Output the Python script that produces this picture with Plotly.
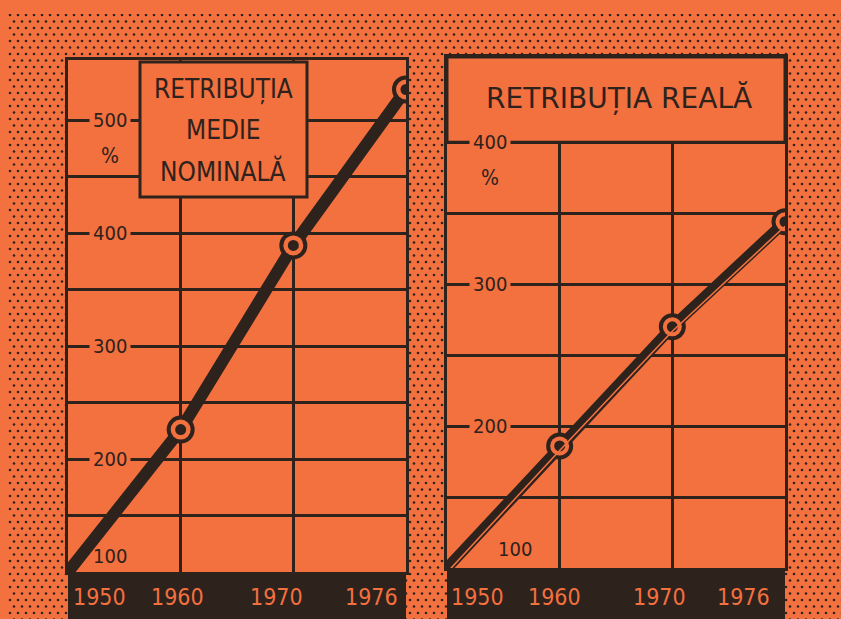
import base64
import plotly.graph_objects as go

# ---------------- data ----------------
years = ["1950", "1960", "1970", "1976"]
nominal = [100, 226, 389, 527]     # Retribuția medie nominală (%)
real = [100, 186, 270, 344]        # Retribuția reală (%)

left_ticks = [100, 200, 300, 400, 500]
right_ticks = [100, 200, 300, 400]
left_grid = [150, 200, 250, 300, 350, 400, 450, 500]
right_grid = [150, 200, 250, 300, 350, 400]

title_left = ["RETRIBUȚIA", "MEDIE", "NOMINALĂ"]
title_right = "RETRIBUȚIA REALĂ"

# ---------------- style ----------------
W, H = 841, 619
ORANGE = "#F3703F"
DARK = "#2E221D"
FONT = "Liberation Sans Narrow, DejaVu Sans Condensed, Roboto Condensed, Arial Narrow, sans-serif"
WIDE = "DejaVu Sans, Verdana, sans-serif"

# panel pixel boxes
L = dict(x0=68, x1=406, top=60, bot=572)
R = dict(x0=447, x1=785, top=57, bot=568)


def px(x):
    return x / W


def py(y):
    return 1 - y / H


# dotted background texture (outside the panels only)
svg = f"""<svg xmlns='http://www.w3.org/2000/svg' width='{W}' height='{H}'>
<defs><pattern id='p' width='8' height='13' patternUnits='userSpaceOnUse'>
<circle cx='2' cy='2' r='1.3' fill='{DARK}'/><circle cx='6' cy='8.5' r='1.3' fill='{DARK}'/>
</pattern></defs>
<rect width='{W}' height='{H}' fill='{ORANGE}'/>
<rect x='8' y='14' width='{W-8}' height='{H-14}' fill='url(#p)'/>
<rect x='{L["x0"]}' y='{L["top"]}' width='{L["x1"]-L["x0"]}' height='{H-L["top"]}' fill='{ORANGE}'/>
<rect x='{R["x0"]}' y='{R["top"]}' width='{R["x1"]-R["x0"]}' height='{H-R["top"]}' fill='{ORANGE}'/>
</svg>"""
uri = "data:image/svg+xml;base64," + base64.b64encode(svg.encode()).decode()

fig = go.Figure()

# ---- left panel: nominal ----
fig.add_trace(go.Scatter(x=years, y=nominal, mode="lines", line=dict(color=DARK, width=12),
                         xaxis="x", yaxis="y", showlegend=False, hoverinfo="skip"))
for size, col in [(28, DARK), (20, ORANGE), (11, DARK)]:
    fig.add_trace(go.Scatter(x=years[1:], y=nominal[1:], mode="markers",
                             marker=dict(size=size, color=col, line=dict(width=0)),
                             xaxis="x", yaxis="y", showlegend=False, hoverinfo="skip"))

# ---- right panel: real ----
fig.add_trace(go.Scatter(x=years, y=real, mode="lines", line=dict(color=DARK, width=11),
                         xaxis="x2", yaxis="y2", showlegend=False, hoverinfo="skip"))
fig.add_trace(go.Scatter(x=years, y=real, mode="lines", line=dict(color=ORANGE, width=1.6),
                         xaxis="x2", yaxis="y3", showlegend=False, hoverinfo="skip"))
for size, col in [(27, DARK), (19, ORANGE), (11, DARK)]:
    fig.add_trace(go.Scatter(x=years[1:], y=real[1:], mode="markers",
                             marker=dict(size=size, color=col, line=dict(width=0)),
                             xaxis="x2", yaxis="y2", showlegend=False, hoverinfo="skip"))

axis_common = dict(showline=True, mirror=True, linewidth=3, linecolor=DARK,
                   showgrid=True, gridcolor=DARK, gridwidth=2.5, zeroline=False,
                   showticklabels=False, ticks="", fixedrange=True)

ly_range = [100, 100 + (L["bot"] - L["top"]) / 1.13]
ry_ppu = 1.419
ry_range = [100, 100 + (R["bot"] - R["top"]) / ry_ppu]
shift = 4.5 / ry_ppu

fig.update_layout(
    width=W, height=H,
    margin=dict(l=0, r=0, t=0, b=0),
    paper_bgcolor=ORANGE, plot_bgcolor=ORANGE,
    images=[dict(source=uri, xref="paper", yref="paper", x=0, y=1, sizex=1, sizey=1,
                 sizing="stretch", layer="below", xanchor="left", yanchor="top")],
    xaxis=dict(axis_common, type="category", range=[0, 3], categoryorder="array",
               categoryarray=years, domain=[px(L["x0"]), px(L["x1"])], anchor="y"),
    yaxis=dict(axis_common, range=ly_range, tickvals=left_grid,
               domain=[py(L["bot"]), py(L["top"])], anchor="x"),
    xaxis2=dict(axis_common, type="category", range=[0, 3], categoryorder="array",
                categoryarray=years, domain=[px(R["x0"]), px(R["x1"])], anchor="y2"),
    yaxis2=dict(axis_common, range=ry_range, tickvals=right_grid,
                domain=[py(R["bot"]), py(R["top"])], anchor="x2"),
    yaxis3=dict(range=[ry_range[0] + shift, ry_range[1] + shift], overlaying="y2",
                visible=False, fixedrange=True),
)

shapes = []
# dark bands at bottom with the year labels
for P in (L, R):
    shapes.append(dict(type="rect", xref="paper", yref="paper", x0=px(P["x0"]), x1=px(P["x1"]),
                       y0=-0.02, y1=py(P["bot"]), fillcolor=DARK, line=dict(width=0),
                       layer="above"))
# title box, left panel
shapes.append(dict(type="rect", xref="paper", yref="paper", x0=px(140), x1=px(307),
                   y0=py(197), y1=py(62), fillcolor=ORANGE,
                   line=dict(color=DARK, width=3), layer="above"))
# framed clear zone for the right title (no grid above the 400 line)
shapes.append(dict(type="rect", xref="x2 domain", yref="y2", x0=0, x1=1,
                   y0=right_grid[-1], y1=ry_range[1], fillcolor=ORANGE,
                   line=dict(color=DARK, width=3), layer="above"))
fig.update_layout(shapes=shapes)

ann = []
# left title
for i, t in enumerate(title_left):
    ann.append(dict(text=t, xref="paper", yref="paper", x=px(223), y=py(89 + 41 * i),
                    xanchor="center", yanchor="middle",
                    showarrow=False, font=dict(family=FONT, size=26, color=DARK)))
# right title
ann.append(dict(text=title_right, xref="paper", yref="paper", x=px(619), y=py(98),
                xanchor="center", yanchor="middle",
                showarrow=False, font=dict(family=WIDE, size=28, color=DARK)))

# y tick labels (inside, with orange background to interrupt the grid)
for v in left_ticks:
    if v == 100:
        ann.append(dict(text="100", xref="x", yref="y", x=0.37, y=v, yshift=16,
                        showarrow=False, font=dict(family=FONT, size=20, color=DARK)))
    else:
        ann.append(dict(text=str(v), xref="x", yref="y", x=0.37, y=v, showarrow=False,
                        bgcolor=ORANGE, borderpad=3,
                        font=dict(family=FONT, size=20, color=DARK)))
ann.append(dict(text="%", xref="x", yref="y", x=0.37, y=500, yshift=-36, showarrow=False,
                font=dict(family=FONT, size=21, color=DARK)))
for v in right_ticks:
    if v == 100:
        ann.append(dict(text="100", xref="x2", yref="y2", x=0.6, y=v, yshift=19,
                        showarrow=False, font=dict(family=FONT, size=20, color=DARK)))
    else:
        ann.append(dict(text=str(v), xref="x2", yref="y2", x=0.38, y=v, showarrow=False,
                        bgcolor=ORANGE, borderpad=3,
                        font=dict(family=FONT, size=20, color=DARK)))
ann.append(dict(text="%", xref="x2", yref="y2", x=0.38, y=400, yshift=-36, showarrow=False,
                font=dict(family=FONT, size=21, color=DARK)))

# x labels in the dark band
for xr, shifts in [("x", [3, -3, -17, -6]), ("x2", [2, -5, -13, -13])]:
    for i, yr in enumerate(years):
        anchor = "left" if i == 0 else ("right" if i == len(years) - 1 else "center")
        ann.append(dict(text=yr, xref=xr, yref="paper", x=i, y=py(597), xanchor=anchor,
                        yanchor="middle", xshift=shifts[i], showarrow=False,
                        font=dict(family=FONT, size=23, color=ORANGE)))
fig.update_layout(annotations=ann)

fig.write_html("out.html", config={"displayModeBar": False},
               post_script="document.body.style.margin='0';")
